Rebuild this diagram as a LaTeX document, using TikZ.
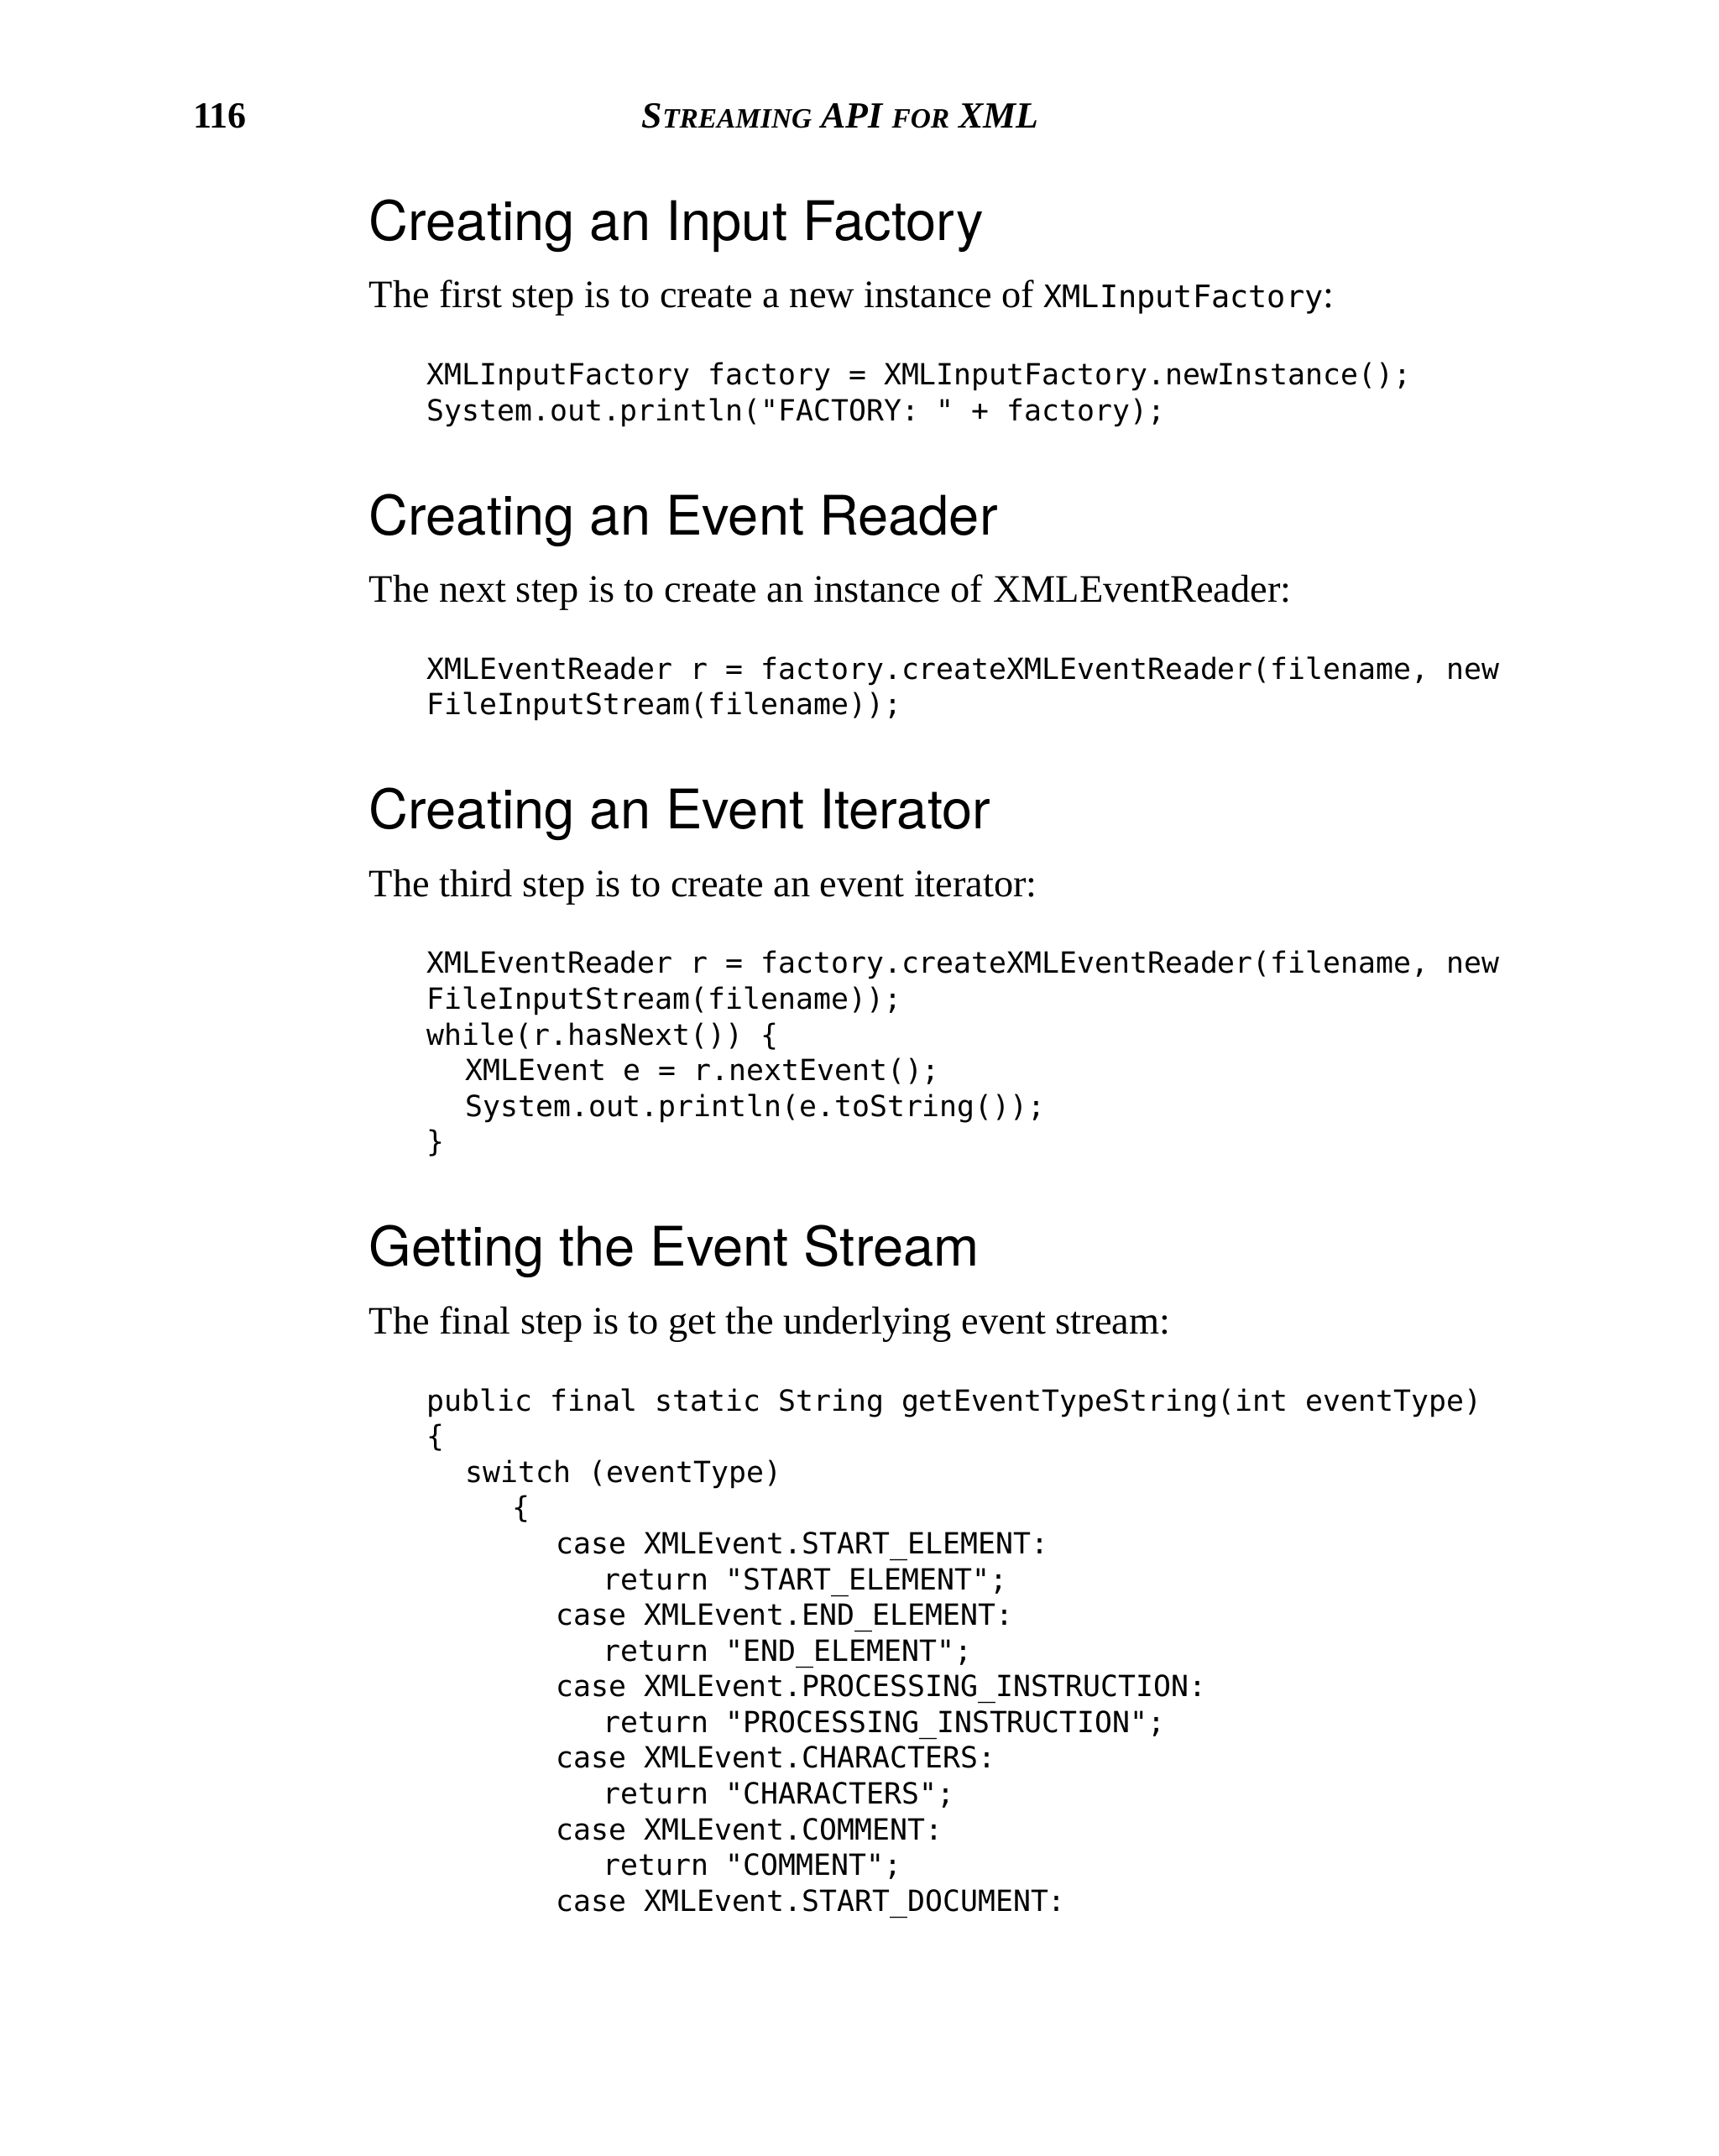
\documentclass[tikz,border=0pt]{standalone}
\usepackage{fontspec}
\setmainfont{Liberation Serif}
\setsansfont{Liberation Sans}
\setmonofont{DejaVu Sans Mono}
\newfontfamily\headfont{TeX Gyre Heros}
\tikzset{
  txt/.style={anchor=base west, inner sep=0pt, font=\fontsize{13.2}{15}\selectfont},
  head/.style={anchor=base west, inner sep=0pt, font=\headfont\fontsize{18.5}{22}\selectfont},
  code/.style={anchor=base west, inner sep=0pt, font=\ttfamily\fontsize{9.9}{12}\selectfont},
}
\begin{document}
\begin{tikzpicture}[x=0.016384cm, y=-0.016384cm]
  \useasboundingbox[fill=white] (0,0) rectangle (1250,1568);
  % running head
  \node[txt, font=\bfseries\fontsize{12.5}{15}\selectfont] (page) at (140,93) {116};
  \node[anchor=base, inner sep=0pt, font=\bfseries\itshape\fontsize{12.5}{15}\selectfont] (runhead) at (611,93)
    {S{\fontsize{9.5}{12}\selectfont TREAMING} API {\fontsize{9.5}{12}\selectfont FOR} XML};
  % section 1
  \node[head] (h1) at (268,175) {Creating an Input Factory};
  \node[txt] (t1) at (268,224) {The first step is to create a new instance of {\ttfamily\fontsize{10.5}{12}\selectfont XMLInputFactory}:};
  \node[code] (c11) at (310,280) {XMLInputFactory factory = XMLInputFactory.newInstance();};
  \node[code] (c12) at (310,306) {System.out.println("FACTORY: " + factory);};
  % section 2
  \node[head] (h2) at (268,389) {Creating an Event Reader};
  \node[txt] (t2) at (268,438) {The next step is to create an instance of XMLEventReader:};
  \node[code] (c21) at (310,494) {XMLEventReader r = factory.createXMLEventReader(filename, new};
  \node[code] (c22) at (310,520) {FileInputStream(filename));};
  % section 3
  \node[head] (h3) at (268,603) {Creating an Event Iterator};
  \node[txt] (t3) at (268,652) {The third step is to create an event iterator:};
  \node[code] (c31) at (310,708) {XMLEventReader r = factory.createXMLEventReader(filename, new};
  \node[code] (c32) at (310,734) {FileInputStream(filename));};
  \node[code] (c33) at (310,760) {while(r.hasNext()) \{};
  \node[code] (c34) at (338,786) {XMLEvent e = r.nextEvent();};
  \node[code] (c35) at (338,812) {System.out.println(e.toString());};
  \node[code] (c36) at (310,838) {\}};
  % section 4
  \node[head] (h4) at (268,921) {Getting the Event Stream};
  \node[txt] (t4) at (268,970) {The final step is to get the underlying event stream:};
  \node[code] (c41) at (310,1026) {public final static String getEventTypeString(int eventType)};
  \node[code] (c42) at (310,1052) {\{};
  \node[code] (c43) at (338,1078) {switch (eventType)};
  \node[code] (c44) at (372,1104) {\{};
  \node[code] (c45) at (404,1130) {case XMLEvent.START\_ELEMENT:};
  \node[code] (c46) at (438,1156) {return "START\_ELEMENT";};
  \node[code] (c47) at (404,1182) {case XMLEvent.END\_ELEMENT:};
  \node[code] (c48) at (438,1208) {return "END\_ELEMENT";};
  \node[code] (c49) at (404,1234) {case XMLEvent.PROCESSING\_INSTRUCTION:};
  \node[code] (c410) at (438,1260) {return "PROCESSING\_INSTRUCTION";};
  \node[code] (c411) at (404,1286) {case XMLEvent.CHARACTERS:};
  \node[code] (c412) at (438,1312) {return "CHARACTERS";};
  \node[code] (c413) at (404,1338) {case XMLEvent.COMMENT:};
  \node[code] (c414) at (438,1364) {return "COMMENT";};
  \node[code] (c415) at (404,1390) {case XMLEvent.START\_DOCUMENT:};
\end{tikzpicture}
\end{document}
